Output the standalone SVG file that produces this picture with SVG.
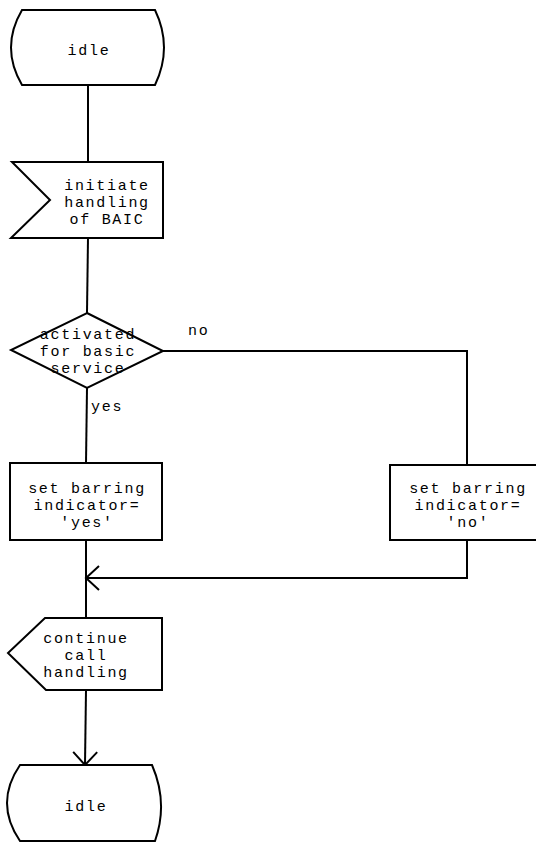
<svg xmlns="http://www.w3.org/2000/svg" width="536" height="843" viewBox="0 0 536 843">
<style>
.s{fill:#fff;stroke:#000;stroke-width:2;stroke-linejoin:miter}
.l{fill:none;stroke:#000;stroke-width:2}
.t{font-family:"Liberation Mono","DejaVu Sans Mono",monospace;font-size:15px;letter-spacing:1.7px;fill:#000;text-anchor:middle}
.ts{font-family:"Liberation Mono","DejaVu Sans Mono",monospace;font-size:15px;letter-spacing:1.7px;fill:#000}
</style>
<defs>
<marker id="v" viewBox="-14 -13 16 26" refX="0" refY="0" markerWidth="16" markerHeight="26" markerUnits="userSpaceOnUse" orient="auto">
<path d="M-13,-12 L0,0 L-13,12" fill="none" stroke="#000" stroke-width="2"/>
</marker>
</defs>
<rect width="536" height="843" fill="#fff"/>
<g id="connectors">
<path class="l" d="M88,85 L88,162"/>
<path class="l" d="M88,238 L87,313"/>
<path class="l" d="M87,388 L86,463"/>
<path class="l" d="M163,351 L467,351 L467,465"/>
<path class="l" d="M467,540 L467,578 L86,578" marker-end="url(#v)"/>
<path class="l" d="M86,540 L86,618"/>
<path class="l" d="M86,690 L85,765" marker-end="url(#v)"/>
<text class="ts" x="188" y="335">no</text>
<text class="ts" x="91" y="411">yes</text>
</g>
<g id="idle_top">
<path class="s" d="M22,10 L155,10 Q173,47.5 155,85 L22,85 Q0,47.5 22,10 Z"/>
<text class="t" x="89" y="55">idle</text>
</g>
<g id="initiate">
<path class="s" d="M12,162 L163,162 L163,238 L11,238 L50,200 Z"/>
<text class="t" x="107" y="190">initiate</text>
<text class="t" x="107" y="207">handling</text>
<text class="t" x="107" y="224">of BAIC</text>
</g>
<g id="decision">
<path class="s" d="M87,313 L163,351 L87,388 L11,350 Z"/>
<text class="t" x="88" y="339">activated</text>
<text class="t" x="88" y="356">for basic</text>
<text class="t" x="88" y="373">service</text>
</g>
<g id="set_yes">
<rect class="s" x="10" y="463" width="152" height="77"/>
<text class="t" x="87" y="493">set barring</text>
<text class="t" x="87" y="510">indicator=</text>
<text class="t" x="87" y="527">'yes'</text>
</g>
<g id="set_no">
<rect class="s" x="390" y="465" width="154" height="75"/>
<text class="t" x="468" y="493">set barring</text>
<text class="t" x="468" y="510">indicator=</text>
<text class="t" x="468" y="527">'no'</text>
</g>
<g id="continue">
<path class="s" d="M45,618 L162,618 L162,690 L46,690 L8,653 Z"/>
<text class="t" x="86" y="643">continue</text>
<text class="t" x="86" y="660">call</text>
<text class="t" x="86" y="677">handling</text>
</g>
<g id="idle_bottom">
<path class="s" d="M20,765 L152,765 Q168.5,803 155,841 L20,841 Q-6,803 20,765 Z"/>
<text class="t" x="86" y="811">idle</text>
</g>
</svg>
